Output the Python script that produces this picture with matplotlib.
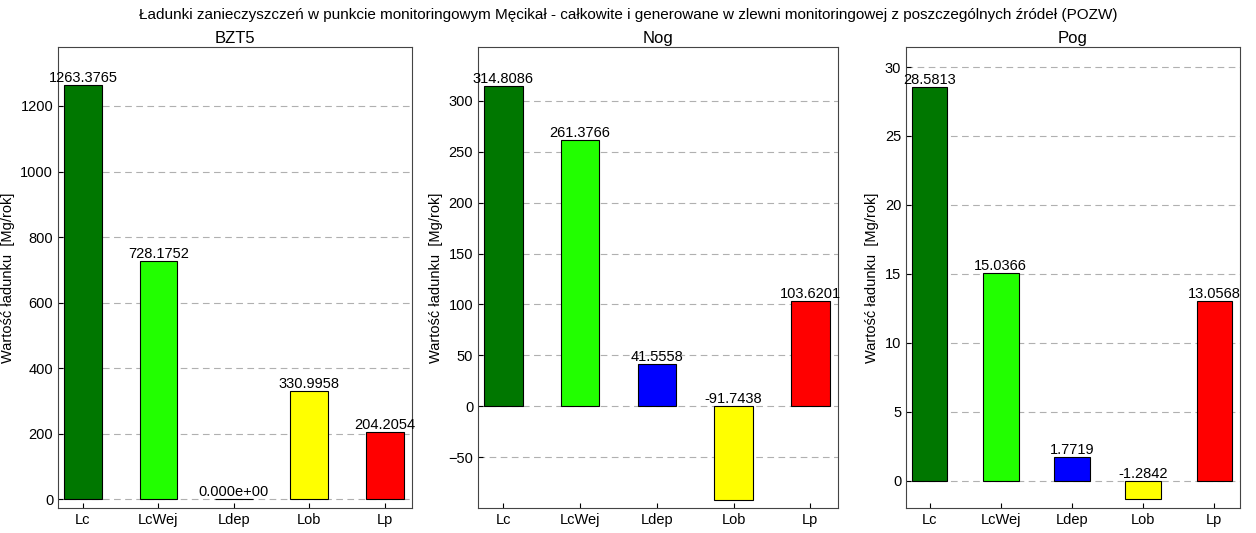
import matplotlib
matplotlib.use("Agg")
import matplotlib.pyplot as plt
plt.rcParams["font.family"] = "Liberation Sans"

categories = ["Lc", "LcWej", "Ldep", "Lob", "Lp"]
titles = ["BZT5", "Nog", "Pog"]
values_bzt5 = [1263.3765, 728.1752, 0.0, 330.9958, 204.2054]
values_nog = [314.8086, 261.3766, 41.5558, -91.7438, 103.6201]
values_pog = [28.5813, 15.0366, 1.7719, -1.2842, 13.0568]
labels_bzt5 = ["1263.3765", "728.1752", "0.000e+00", "330.9958", "204.2054"]
labels_nog = ["314.8086", "261.3766", "41.5558", "-91.7438", "103.6201"]
labels_pog = ["28.5813", "15.0366", "1.7719", "-1.2842", "13.0568"]
colors = ["#007700", "#22ff00", "#0000ff", "#ffff00", "#ff0000"]

fig = plt.figure(figsize=(12.56, 5.33), dpi=100)
fig.suptitle("Ładunki zanieczyszczeń w punkcie monitoringowym Męcikał - całkowite i generowane w zlewni monitoringowej z poszczególnych źródeł (POZW)",
             fontsize=11, y=0.985)
pos = [(58, 412), (478, 838), (906, 1240)]
ylims = [(-27, 1380), (-100, 353), (-1.96, 31.45)]
yt = [[0, 200, 400, 600, 800, 1000, 1200], [-50, 0, 50, 100, 150, 200, 250, 300], [0, 5, 10, 15, 20, 25, 30]]
data = [(values_bzt5, labels_bzt5), (values_nog, labels_nog), (values_pog, labels_pog)]
W, H = 1256, 533
for i, (x0, x1) in enumerate(pos):
    ax = fig.add_axes([x0 / W, (H - 508) / H, (x1 - x0) / W, (508 - 47) / H])
    vals, labs = data[i]
    xs = range(len(categories))
    ax.set_axisbelow(True)
    ax.yaxis.grid(True, linestyle=(0, (6, 4)), color="#b0b0b0", linewidth=0.8)
    ax.bar(xs, vals, width=0.5, color=colors, edgecolor="black", linewidth=0.8)
    for x, v, l in zip(xs, vals, labs):
        ax.text(x, max(v, 0), l, ha="center", va="bottom", fontsize=10.5)
    ax.set_xticks(list(xs))
    ax.set_xticklabels(categories, fontsize=10.5)
    ax.set_yticks(yt[i])
    ax.tick_params(labelsize=10.5, direction="in", top=False, right=False)
    ax.set_ylim(*ylims[i])
    ax.set_xlim(-0.33, 4.36)
    ax.set_title(titles[i], fontsize=12, pad=3)
    ax.set_ylabel("Wartość ładunku  [Mg/rok]", fontsize=10.5)
    for s in ax.spines.values():
        s.set_color("#444444")
fig.savefig("out.png", dpi=100)
